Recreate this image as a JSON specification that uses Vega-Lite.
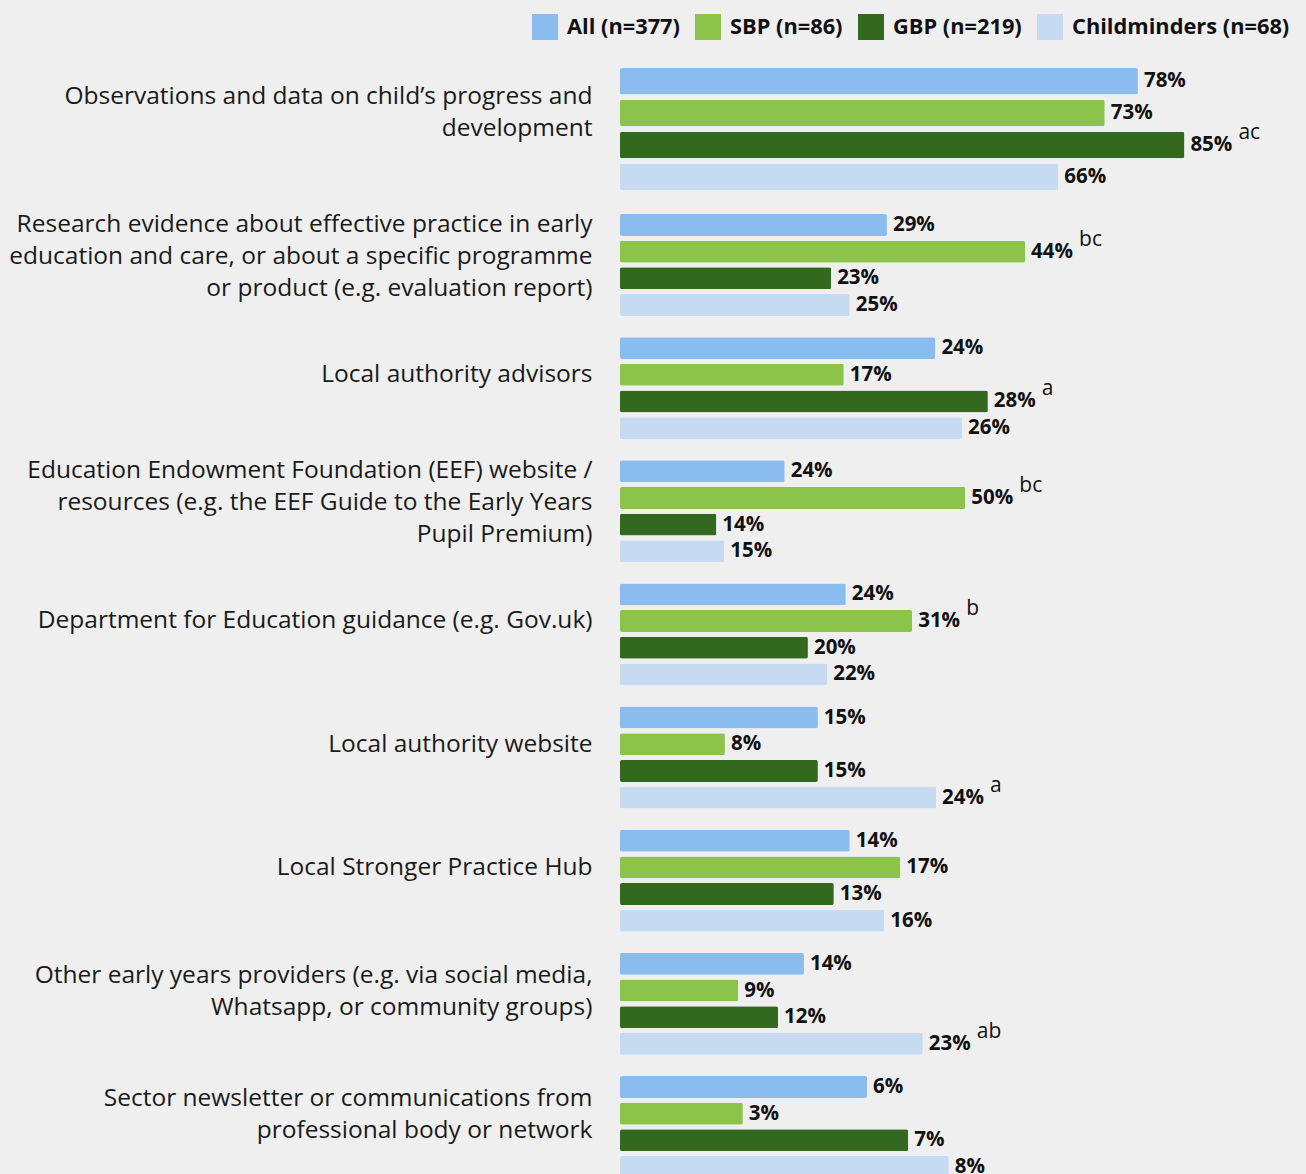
{
  "$schema": "https://vega.github.io/schema/vega-lite/v6.json",
  "background": "#efefef",
  "padding": {"left": 8, "top": 14, "right": 22, "bottom": 0},
  "config": {
    "view": {"stroke": null},
    "font": "Open Sans",
    "concat": {"spacing": 21},
    "axis": {"labelFont": "Open Sans", "labelColor": "#1a1a1a"}
  },
  "datasets": {
    "d": [
      {"source": "Observations and data on child’s progress and|development", "group": "All (n=377)", "bar": 78, "pct": 0.78, "sig": ""},
      {"source": "Observations and data on child’s progress and|development", "group": "SBP (n=86)", "bar": 73, "pct": 0.73, "sig": ""},
      {"source": "Observations and data on child’s progress and|development", "group": "GBP (n=219)", "bar": 85, "pct": 0.85, "sig": "ac"},
      {"source": "Observations and data on child’s progress and|development", "group": "Childminders (n=68)", "bar": 66, "pct": 0.66, "sig": ""},
      {"source": "Research evidence about effective practice in early|education and care, or about a specific programme|or product (e.g. evaluation report)", "group": "All (n=377)", "bar": 40.2, "pct": 0.29, "sig": ""},
      {"source": "Research evidence about effective practice in early|education and care, or about a specific programme|or product (e.g. evaluation report)", "group": "SBP (n=86)", "bar": 61.0, "pct": 0.44, "sig": "bc"},
      {"source": "Research evidence about effective practice in early|education and care, or about a specific programme|or product (e.g. evaluation report)", "group": "GBP (n=219)", "bar": 31.8, "pct": 0.23, "sig": ""},
      {"source": "Research evidence about effective practice in early|education and care, or about a specific programme|or product (e.g. evaluation report)", "group": "Childminders (n=68)", "bar": 34.6, "pct": 0.25, "sig": ""},
      {"source": "Local authority advisors", "group": "All (n=377)", "bar": 47.5, "pct": 0.24, "sig": ""},
      {"source": "Local authority advisors", "group": "SBP (n=86)", "bar": 33.7, "pct": 0.17, "sig": ""},
      {"source": "Local authority advisors", "group": "GBP (n=219)", "bar": 55.4, "pct": 0.28, "sig": "a"},
      {"source": "Local authority advisors", "group": "Childminders (n=68)", "bar": 51.5, "pct": 0.26, "sig": ""},
      {"source": "Education Endowment Foundation (EEF) website /|resources (e.g. the EEF Guide to the Early Years|Pupil Premium)", "group": "All (n=377)", "bar": 24.8, "pct": 0.24, "sig": ""},
      {"source": "Education Endowment Foundation (EEF) website /|resources (e.g. the EEF Guide to the Early Years|Pupil Premium)", "group": "SBP (n=86)", "bar": 52.0, "pct": 0.50, "sig": "bc"},
      {"source": "Education Endowment Foundation (EEF) website /|resources (e.g. the EEF Guide to the Early Years|Pupil Premium)", "group": "GBP (n=219)", "bar": 14.5, "pct": 0.14, "sig": ""},
      {"source": "Education Endowment Foundation (EEF) website /|resources (e.g. the EEF Guide to the Early Years|Pupil Premium)", "group": "Childminders (n=68)", "bar": 15.7, "pct": 0.15, "sig": ""},
      {"source": "Department for Education guidance (e.g. Gov.uk)", "group": "All (n=377)", "bar": 34.0, "pct": 0.24, "sig": ""},
      {"source": "Department for Education guidance (e.g. Gov.uk)", "group": "SBP (n=86)", "bar": 44.0, "pct": 0.31, "sig": "b"},
      {"source": "Department for Education guidance (e.g. Gov.uk)", "group": "GBP (n=219)", "bar": 28.3, "pct": 0.20, "sig": ""},
      {"source": "Department for Education guidance (e.g. Gov.uk)", "group": "Childminders (n=68)", "bar": 31.2, "pct": 0.22, "sig": ""},
      {"source": "Local authority website", "group": "All (n=377)", "bar": 29.8, "pct": 0.15, "sig": ""},
      {"source": "Local authority website", "group": "SBP (n=86)", "bar": 15.8, "pct": 0.08, "sig": ""},
      {"source": "Local authority website", "group": "GBP (n=219)", "bar": 29.8, "pct": 0.15, "sig": ""},
      {"source": "Local authority website", "group": "Childminders (n=68)", "bar": 47.6, "pct": 0.24, "sig": "a"},
      {"source": "Local Stronger Practice Hub", "group": "All (n=377)", "bar": 34.6, "pct": 0.14, "sig": ""},
      {"source": "Local Stronger Practice Hub", "group": "SBP (n=86)", "bar": 42.2, "pct": 0.17, "sig": ""},
      {"source": "Local Stronger Practice Hub", "group": "GBP (n=219)", "bar": 32.2, "pct": 0.13, "sig": ""},
      {"source": "Local Stronger Practice Hub", "group": "Childminders (n=68)", "bar": 39.8, "pct": 0.16, "sig": ""},
      {"source": "Other early years providers (e.g. via social media,|Whatsapp, or community groups)", "group": "All (n=377)", "bar": 27.7, "pct": 0.14, "sig": ""},
      {"source": "Other early years providers (e.g. via social media,|Whatsapp, or community groups)", "group": "SBP (n=86)", "bar": 17.8, "pct": 0.09, "sig": ""},
      {"source": "Other early years providers (e.g. via social media,|Whatsapp, or community groups)", "group": "GBP (n=219)", "bar": 23.8, "pct": 0.12, "sig": ""},
      {"source": "Other early years providers (e.g. via social media,|Whatsapp, or community groups)", "group": "Childminders (n=68)", "bar": 45.6, "pct": 0.23, "sig": "ab"},
      {"source": "Sector newsletter or communications from|professional body or network", "group": "All (n=377)", "bar": 37.2, "pct": 0.06, "sig": ""},
      {"source": "Sector newsletter or communications from|professional body or network", "group": "SBP (n=86)", "bar": 18.5, "pct": 0.03, "sig": ""},
      {"source": "Sector newsletter or communications from|professional body or network", "group": "GBP (n=219)", "bar": 43.4, "pct": 0.07, "sig": ""},
      {"source": "Sector newsletter or communications from|professional body or network", "group": "Childminders (n=68)", "bar": 49.5, "pct": 0.08, "sig": ""}
    ]
  },
  "resolve": {"scale": {"x": "shared", "color": "shared", "y": "independent", "yOffset": "independent"}},
  "vconcat": [
    {
      "width": 664,
      "height": 122,
      "data": {"name": "d"},
      "transform": [{"filter": "indexof(datum.source, 'Observations') == 0"}],
      "encoding": {
        "y": {"field": "source", "type": "nominal", "scale": {"paddingInner": 0, "paddingOuter": 0},
              "axis": {"title": null, "domain": false, "ticks": false, "labelExpr": "split(datum.label, '|')", "labelFontSize": 24.5, "labelLineHeight": 32, "labelPadding": 28, "labelLimit": 800, "labelOffset": -32}},
        "yOffset": {"field": "group", "type": "nominal", "sort": ["All (n=377)", "SBP (n=86)", "GBP (n=219)", "Childminders (n=68)"], "scale": {"paddingInner": 0.167, "paddingOuter": 0}},
        "x": {"field": "bar", "type": "quantitative", "scale": {"domain": [0, 100], "nice": false}, "axis": null}
      },
      "layer": [
        {"mark": {"type": "bar", "cornerRadius": 2},
         "encoding": {"color": {"field": "group", "type": "nominal", "sort": ["All (n=377)", "SBP (n=86)", "GBP (n=219)", "Childminders (n=68)"],
           "scale": {"domain": ["All (n=377)", "SBP (n=86)", "GBP (n=219)", "Childminders (n=68)"], "range": ["#8bbcf0", "#8cc34b", "#33691e", "#c6dbf2"]},
           "legend": {"title": null, "orient": "none", "legendX": -88, "legendY": -54, "direction": "horizontal", "symbolType": "square", "symbolSize": 676, "symbolStrokeWidth": 0, "symbolOpacity": 1, "labelFontSize": 21.8, "labelFontWeight": "bold", "labelFont": "Open Sans", "labelColor": "#111111", "labelLimit": 400, "columnPadding": 15, "labelOffset": 9, "padding": 0}}}},
        {"mark": {"type": "text", "align": "left", "baseline": "middle", "dx": 6, "fontSize": 20.5, "fontWeight": "bold", "color": "#111111"},
         "encoding": {"text": {"field": "pct", "type": "quantitative", "format": ".0%"}}},
        {"transform": [{"filter": "datum.sig != ''"}],
         "mark": {"type": "text", "align": "left", "baseline": "alphabetic", "dx": 54, "dy": -6, "fontSize": 21, "color": "#111111"},
         "encoding": {"text": {"field": "sig", "type": "nominal"}}}
      ]
    },
    {
      "width": 664,
      "height": 964,
      "data": {"name": "d"},
      "transform": [{"filter": "indexof(datum.source, 'Observations') != 0"}],
      "encoding": {
        "y": {"field": "source", "type": "nominal", "sort": null, "scale": {"paddingInner": 0.172, "paddingOuter": 0},
              "axis": {"title": null, "domain": false, "ticks": false, "labelExpr": "split(datum.label, '|')", "labelFontSize": 24.5, "labelLineHeight": 32, "labelPadding": 28, "labelLimit": 800,
                "labelOffset": {"condition": [{"test": "length(split(datum.label, '|')) == 3", "value": -40}, {"test": "length(split(datum.label, '|')) == 2", "value": -28}], "value": -13}}},
        "yOffset": {"field": "group", "type": "nominal", "sort": ["All (n=377)", "SBP (n=86)", "GBP (n=219)", "Childminders (n=68)"], "scale": {"paddingInner": 0.176, "paddingOuter": 0}},
        "x": {"field": "bar", "type": "quantitative", "scale": {"domain": [0, 100], "nice": false}, "axis": null}
      },
      "layer": [
        {"mark": {"type": "bar", "cornerRadius": 2},
         "encoding": {"color": {"field": "group", "type": "nominal", "sort": ["All (n=377)", "SBP (n=86)", "GBP (n=219)", "Childminders (n=68)"]}}},
        {"mark": {"type": "text", "align": "left", "baseline": "middle", "dx": 6, "fontSize": 20.5, "fontWeight": "bold", "color": "#111111"},
         "encoding": {"text": {"field": "pct", "type": "quantitative", "format": ".0%"}}},
        {"transform": [{"filter": "datum.sig != ''"}],
         "mark": {"type": "text", "align": "left", "baseline": "alphabetic", "dx": 54, "dy": -6, "fontSize": 21, "color": "#111111"},
         "encoding": {"text": {"field": "sig", "type": "nominal"}}}
      ]
    }
  ]
}
